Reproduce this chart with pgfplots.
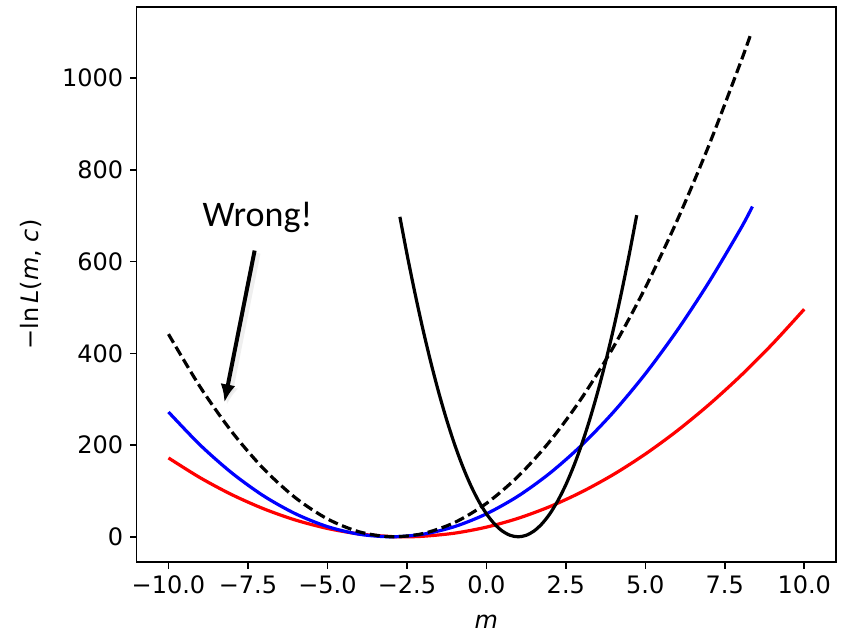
\documentclass[border=0pt]{standalone}
\usepackage{pgfplots}
\pgfplotsset{compat=1.18}
\usepackage{fontspec}
\setmainfont{DejaVu Sans}
\newfontfamily\wrongfont{Carlito}
\usetikzlibrary{arrows.meta}
\begin{document}
\begin{tikzpicture}
\begin{axis}[
  width=349.65pt, height=277.5pt, scale only axis,
  xmin=-11, xmax=11, ymin=-55, ymax=1155,
  axis line style={line width=0.75pt},
  tick style={line width=0.75pt, black},
  tick align=outside, major tick length=3.25pt,
  xtick pos=bottom, ytick pos=left,
  xtick={-10,-7.5,-5,-2.5,0,2.5,5,7.5,10},
  xticklabels={−10.0,−7.5,−5.0,−2.5,0.0,2.5,5.0,7.5,10.0},
  ytick={0,200,400,600,800,1000},
  yticklabels={0,200,400,600,800,1000},
  ticklabel style={font=\fontsize{12}{14}\selectfont},
  xlabel={\textit{m}},
  ylabel={−ln\,\textit{L}(\textit{m}, \textit{c})},
  label style={font=\fontsize{12}{14}\selectfont},
  xlabel style={at={(axis description cs:0.5,0)}, anchor=center, yshift=-30pt},
  ylabel style={at={(axis description cs:-0.1512,0.5)}, anchor=center, rotate=0},
  clip=false,
]
% red
\addplot[red, line width=1.6pt, smooth] coordinates {
(-10,171.9)(-9,128.6)(-8,91.6)(-7,60.9)(-6,36.4)(-5,18.2)(-4,6.2)(-3,0.5)(-2.59,0)(-2,1.1)(-1,7.9)(0,21.0)(1,40.3)(2,65.9)(3,97.8)(4,135.9)(5,180.3)(6,231.0)(7,287.9)(8,351.0)(9,420.4)(10,496.1)};
% blue
\addplot[blue, line width=1.6pt, smooth] coordinates {
(-10,272.0)(-9,199.8)(-8,138.8)(-7,88.8)(-6,50.0)(-5,22.2)(-4,5.6)(-3,0)(-2,5.6)(-1,22.2)(0,50.0)(1,88.8)(2,138.8)(3,199.8)(4,272.0)(5,355.2)(6,449.6)(7,555.0)(8,671.6)(8.37,720)};
% dashed black
\addplot[black, line width=1.6pt, smooth, dash pattern=on 5pt off 2.3pt] coordinates {
(-10,441.8)(-9,326.3)(-8,228.3)(-7,147.7)(-6,84.7)(-5,39.0)(-4,10.8)(-3,0.1)(-2,6.9)(-1,31.1)(0,72.7)(1,131.8)(2,208.4)(3,302.5)(4,414.0)(5,542.9)(6,689.3)(7,853.2)(8,1034.5)(8.34,1100.2)};
% solid black
\addplot[black, line width=1.6pt, smooth] coordinates {
(-2.72,697.5)(-2.5,617.4)(-2.25,532.4)(-2,453.6)(-1.75,381.2)(-1.5,315.0)(-1.25,255.2)(-1,201.6)(-0.75,154.4)(-0.5,113.4)(-0.25,78.8)(0,50.4)(0.25,28.4)(0.5,12.6)(0.75,3.2)(1,0)(1.25,3.2)(1.5,12.6)(1.75,28.4)(2,50.4)(2.25,78.8)(2.5,113.4)(2.75,154.4)(3,201.6)(3.25,255.2)(3.5,315.0)(3.75,381.2)(4,453.6)(4.25,532.4)(4.5,617.4)(4.73,701.2)};
% annotation
\node[font=\wrongfont\fontsize{18}{20}\selectfont, anchor=center] at (axis cs:-7.2,696) {Wrong!};
\draw[black!12, opacity=0.5, line width=3.5pt, -{Latex[length=9pt,width=8pt]}, shift={(1.2pt,-1.2pt)}] (axis cs:-7.29,624) -- (axis cs:-8.24,293);
\draw[black, line width=2pt, -{Latex[length=9pt,width=7.5pt]}] (axis cs:-7.29,624) -- (axis cs:-8.24,293);
\end{axis}
\path (current axis.south west) ++(-68.35pt,-36.5pt) coordinate (bl);
\path (current axis.north east) ++(8.5pt,3.5pt) coordinate (tr);
\path (bl) rectangle (tr);
\end{tikzpicture}
\end{document}
